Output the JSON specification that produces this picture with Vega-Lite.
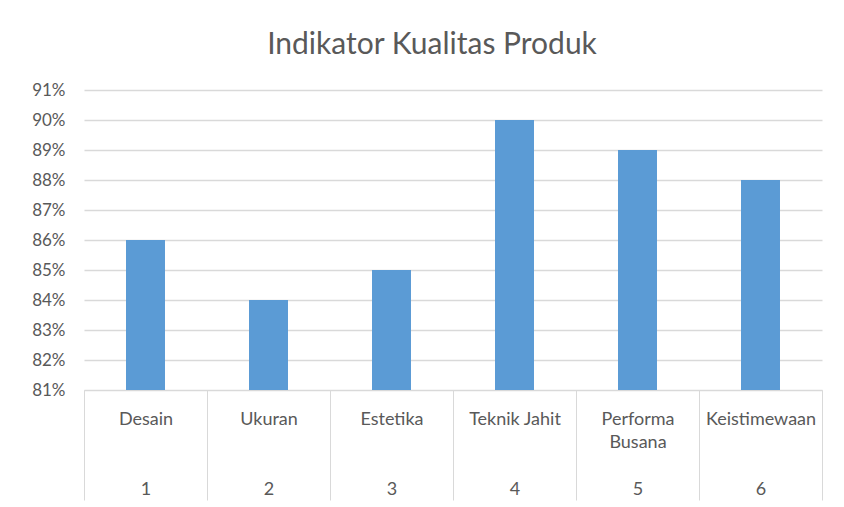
{
  "$schema": "https://vega.github.io/schema/vega-lite/v6.json",
  "width": 738,
  "height": 300,
  "autosize": "none",
  "padding": {"left": 84, "top": 90, "right": 22, "bottom": 117},
  "background": "white",
  "title": {
    "text": "Indikator Kualitas Produk",
    "font": "Lato",
    "fontSize": 30,
    "fontWeight": "normal",
    "color": "#595959",
    "anchor": "middle",
    "dx": -21,
    "offset": 21
  },
  "data": {
    "values": [
      {"no": 1, "kategori": "Desain", "nilai": 0.86},
      {"no": 2, "kategori": "Ukuran", "nilai": 0.84},
      {"no": 3, "kategori": "Estetika", "nilai": 0.85},
      {"no": 4, "kategori": "Teknik Jahit", "nilai": 0.90},
      {"no": 5, "kategori": "Performa Busana", "nilai": 0.89},
      {"no": 6, "kategori": "Keistimewaan", "nilai": 0.88}
    ]
  },
  "mark": {"type": "bar", "color": "#5B9BD5", "width": {"band": 0.317}, "clip": true},
  "encoding": {
    "x": {
      "field": "kategori",
      "type": "nominal",
      "sort": {"field": "no"},
      "scale": {"paddingInner": 0, "paddingOuter": 0},
      "axis": {
        "title": null,
        "labelAngle": 0,
        "tickBand": "extent",
        "tickSize": 110,
        "tickColor": "#D9D9D9",
        "domainColor": "#D9D9D9",
        "labelPadding": -90,
        "labelBaseline": "top",
        "labelLineHeight": 23.5,
        "labelFont": "Lato",
        "labelFontSize": 18,
        "labelColor": "#595959",
        "labelLimit": 200,
        "labelExpr": "datum.value == null || indexof(domain('x'), datum.value) < 0 ? '' : datum.value == 'Performa Busana' ? ['Performa', 'Busana', '\u200b', '' + (indexof(domain('x'), datum.value) + 1)] : [datum.value, '\u200b', '\u200b', '' + (indexof(domain('x'), datum.value) + 1)]"
      }
    },
    "y": {
      "field": "nilai",
      "type": "quantitative",
      "scale": {"domain": [0.81, 0.91], "zero": false, "nice": false},
      "axis": {
        "title": null,
        "values": [0.81, 0.82, 0.83, 0.84, 0.85, 0.86, 0.87, 0.88, 0.89, 0.9, 0.91],
        "format": ".0%",
        "domain": false,
        "ticks": false,
        "gridColor": "#D9D9D9",
        "gridWidth": 1.5,
        "labelPadding": 19,
        "labelFont": "Lato",
        "labelFontSize": 17,
        "labelColor": "#595959"
      }
    }
  },
  "config": {"view": {"stroke": null}}
}
